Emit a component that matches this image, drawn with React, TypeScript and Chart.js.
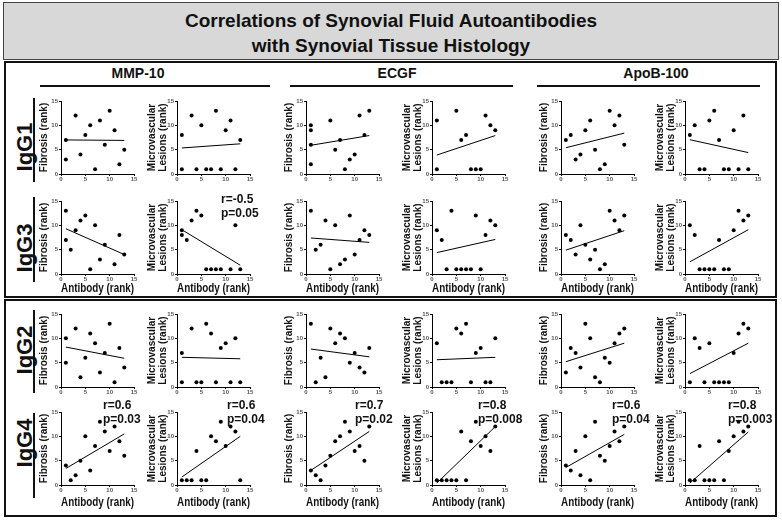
import React, { useEffect, useRef } from 'react';
import { Chart, registerables } from 'chart.js';
Chart.register(...registerables);

type Pt = [number, number];

// ---------------- DATA (antibody rank, histology rank) ----------------
const IgG1_MMP10_Fibrosis: Pt[] = [[1,7],[1,3],[3,12],[4,4],[5,8],[6,10],[7,1],[8,11],[9,6],[10,13],[11,9],[12,2],[13,5]];
const IgG1_MMP10_Micro: Pt[] = [[1,1],[1,8],[3,12],[4,1],[5,10],[6,1],[7,1],[8,13],[9,1],[10,9],[11,11],[12,1],[13,7]];
const IgG1_ECGF_Fibrosis: Pt[] = [[1,10],[1,9],[1,6],[1,2],[5,11],[6,5],[7,7],[8,1],[9,3],[10,4],[11,12],[12,8],[13,13]];
const IgG1_ECGF_Micro: Pt[] = [[1,11],[1,1],[5,13],[6,7],[7,8],[8,1],[9,1],[10,1],[11,12],[12,10],[13,9]];
const IgG1_ApoB_Fibrosis: Pt[] = [[1,7],[2,8],[3,3],[4,4],[5,9],[6,11],[7,5],[8,1],[9,2],[10,13],[11,10],[12,12],[13,6]];
const IgG1_ApoB_Micro: Pt[] = [[1,8],[2,10],[3,1],[4,1],[5,11],[6,13],[7,7],[8,1],[9,1],[10,9],[11,1],[12,12],[13,1]];

const IgG3_MMP10_Fibrosis: Pt[] = [[1,13],[1,7],[2,5],[3,9],[4,11],[5,12],[6,1],[7,10],[8,3],[9,6],[11,2],[12,8],[13,4]];
const IgG3_MMP10_Micro: Pt[] = [[1,9],[1,8],[2,7],[3,11],[4,13],[5,12],[6,1],[7,1],[8,1],[9,1],[11,1],[12,10],[13,1]];
const IgG3_ECGF_Fibrosis: Pt[] = [[1,13],[2,5],[3,6],[4,11],[5,1],[6,10],[7,2],[8,3],[9,12],[10,4],[11,7],[12,9],[13,8]];
const IgG3_ECGF_Micro: Pt[] = [[1,9],[2,7],[3,1],[4,13],[5,1],[6,1],[7,1],[8,1],[9,12],[10,1],[11,8],[12,11],[13,10]];
const IgG3_ApoB_Fibrosis: Pt[] = [[1,8],[2,7],[3,4],[4,10],[5,6],[6,3],[7,5],[8,1],[9,2],[10,13],[11,11],[12,9],[13,12]];
const IgG3_ApoB_Micro: Pt[] = [[1,10],[2,8],[3,1],[4,1],[5,1],[6,1],[7,7],[8,1],[9,1],[10,9],[11,13],[12,11],[13,12]];

const IgG2_MMP10_Fibrosis: Pt[] = [[1,10],[1,5],[3,12],[4,2],[5,6],[6,11],[7,9],[8,3],[9,7],[10,13],[11,1],[12,8],[13,4]];
const IgG2_MMP10_Micro: Pt[] = [[1,7],[1,1],[3,12],[4,1],[5,1],[6,13],[7,11],[8,1],[9,8],[10,9],[11,1],[12,10],[13,1]];
const IgG2_ECGF_Fibrosis: Pt[] = [[1,13],[2,1],[3,6],[4,2],[5,12],[6,9],[7,11],[8,10],[9,5],[10,7],[11,4],[12,3],[13,8]];
const IgG2_ECGF_Micro: Pt[] = [[1,9],[2,1],[3,1],[4,1],[5,12],[6,11],[7,13],[8,1],[9,7],[10,8],[11,1],[12,1],[13,10]];
const IgG2_ApoB_Fibrosis: Pt[] = [[1,3],[2,8],[3,7],[4,4],[5,13],[6,10],[7,2],[8,1],[9,6],[10,5],[11,9],[12,11],[13,12]];
const IgG2_ApoB_Micro: Pt[] = [[1,1],[2,10],[3,8],[4,1],[5,9],[6,1],[7,1],[8,1],[9,1],[10,7],[11,11],[12,13],[13,12]];

const IgG4_MMP10_Fibrosis: Pt[] = [[1,4],[2,1],[3,2],[4,5],[5,10],[6,3],[7,8],[8,13],[9,11],[10,7],[11,12],[12,9],[13,6]];
const IgG4_MMP10_Micro: Pt[] = [[1,1],[2,1],[3,1],[4,7],[5,1],[6,1],[7,10],[8,9],[9,13],[10,8],[11,12],[12,11],[13,1]];
const IgG4_ECGF_Fibrosis: Pt[] = [[1,3],[2,2],[3,1],[4,4],[5,6],[6,9],[7,10],[8,13],[9,11],[10,7],[11,8],[12,5],[13,12]];
const IgG4_ECGF_Micro: Pt[] = [[1,1],[2,1],[3,1],[4,1],[5,1],[6,11],[7,1],[8,9],[9,13],[10,8],[11,10],[12,7],[13,12]];
const IgG4_ApoB_Fibrosis: Pt[] = [[1,4],[2,3],[3,7],[4,2],[5,10],[6,1],[7,13],[8,6],[9,5],[10,8],[11,11],[12,9],[13,12]];
const IgG4_ApoB_Micro: Pt[] = [[1,1],[2,1],[3,8],[4,1],[5,1],[6,1],[7,9],[8,1],[9,7],[10,10],[11,13],[12,11],[13,12]];

// regression line values (y at lowest and highest antibody rank), per panel
const IgG1_FitLines: Pt[] = [[7.0,6.9],[5.35,6.2],[5.9,7.9],[3.9,7.9],[5.4,8.4],[7.05,4.4]];
const IgG3_FitLines: Pt[] = [[9.3,4.0],[9.1,1.8],[7.4,6.5],[4.4,7.1],[4.9,8.9],[2.5,9.1]];
const IgG2_FitLines: Pt[] = [[8.2,5.9],[6.1,5.8],[7.8,6.2],[5.6,6.1],[5.2,9.0],[2.75,9.0]];
const IgG4_FitLines: Pt[] = [[3.4,10.5],[1.65,10.0],[3.0,11.0],[0.4,12.0],[3.6,10.4],[0.4,10.9]];

// statistics labels
const IgG3_Stats: (string[] | null)[] = [null, ['r=-0.5', 'p=0.05'], null, null, null, null];
const IgG4_Stats: (string[] | null)[] = [['r=0.6','p=0.03'],['r=0.6','p=0.04'],['r=0.7','p=0.02'],['r=0.8','p=0.008'],['r=0.6','p=0.04'],['r=0.8','p=0.003']];

const antigens = ['MMP-10', 'ECGF', 'ApoB-100'];
const isotypes = ['IgG1', 'IgG3', 'IgG2', 'IgG4'];
const fibrosisTitle = 'Fibrosis (rank)';
const microTitle = ['Microvascular', 'Lesions (rank)'];
const xAxisTitle = 'Antibody (rank)';
const yTickValues = [0, 5, 10, 15];
const titleLines = ['Correlations of Synovial Fluid Autoantibodies', 'with Synovial Tissue Histology'];

const panelRows: Pt[][][] = [
  [IgG1_MMP10_Fibrosis, IgG1_MMP10_Micro, IgG1_ECGF_Fibrosis, IgG1_ECGF_Micro, IgG1_ApoB_Fibrosis, IgG1_ApoB_Micro],
  [IgG3_MMP10_Fibrosis, IgG3_MMP10_Micro, IgG3_ECGF_Fibrosis, IgG3_ECGF_Micro, IgG3_ApoB_Fibrosis, IgG3_ApoB_Micro],
  [IgG2_MMP10_Fibrosis, IgG2_MMP10_Micro, IgG2_ECGF_Fibrosis, IgG2_ECGF_Micro, IgG2_ApoB_Fibrosis, IgG2_ApoB_Micro],
  [IgG4_MMP10_Fibrosis, IgG4_MMP10_Micro, IgG4_ECGF_Fibrosis, IgG4_ECGF_Micro, IgG4_ApoB_Fibrosis, IgG4_ApoB_Micro],
];
const fitRows = [IgG1_FitLines, IgG3_FitLines, IgG2_FitLines, IgG4_FitLines];
const statRows = [null, IgG3_Stats, null, IgG4_Stats];

// ---------------- LAYOUT ----------------
const FONT = "'Liberation Sans', Arial, Helvetica, sans-serif";
const COL_LEFT = [61, 177, 306, 432, 561, 685];
const ROW_TOP = [101, 201, 314, 412];
const AREA = 73;
const YW = 30;
const PT = 10;
const PR = 12;
const ROW_HAS_XTITLE = [false, true, false, true];
const ROW_XTITLE_PAD = [0, 3.5, 0, 0.7];
const HEADER_CX = [138, 397, 656];
const UNDERLINE = [[40, 270], [290, 513], [537, 760]];
const ROWLABEL_CY = [147, 248, 350, 443];
const ROWLINE = [[98, 182], [197, 282], [310, 393], [413, 498]];
const STAT_LEFT_ROW3 = [103, 227, 355, 478, 612, 728];
const STAT_LEFT_ROW1 = [0, 221, 0, 0, 0, 0];
const STAT_Y = [[0, 0], [199, 212.7], [0, 0], [405, 419]];

interface PlotProps {
  points: Pt[];
  fit: Pt;
  isFibrosis: boolean;
  showXTitle: boolean;
  xTitlePad: number;
  left: number;
  top: number;
}

function MiniPlot({ points, fit, isFibrosis, showXTitle, xTitlePad, left, top }: PlotProps) {
  const ref = useRef<HTMLCanvasElement>(null);
  const XH = showXTitle ? 24 : 10;
  const width = YW + AREA + PR;
  const height = PT + AREA + XH;
  useEffect(() => {
    const xs = points.map((p) => p[0]);
    const x0 = Math.min(...xs);
    const x1 = Math.max(...xs);
    const tickFont = { size: 6, family: FONT, weight: 'bold' as const };
    const chart = new Chart(ref.current as HTMLCanvasElement, {
      type: 'scatter',
      data: {
        datasets: [
          {
            data: [{ x: x0, y: fit[0] }, { x: x1, y: fit[1] }],
            showLine: true,
            borderColor: '#000',
            borderWidth: 1,
            pointRadius: 0,
            order: 1,
          },
          {
            data: points.map(([x, y]) => ({ x, y })),
            showLine: false,
            pointRadius: 2,
            pointBackgroundColor: '#000',
            pointBorderWidth: 0,
            order: 0,
          },
        ],
      },
      options: {
        animation: false,
        responsive: false,
        events: [],
        layout: { padding: { top: PT, right: PR, left: 0, bottom: 0 } },
        plugins: { legend: { display: false }, tooltip: { enabled: false } },
        scales: {
          x: {
            type: 'linear',
            min: 0,
            max: 15,
            ticks: { stepSize: 5, font: tickFont, color: '#555', padding: 0, maxRotation: 0, autoSkip: false },
            grid: { drawOnChartArea: false, drawTicks: true, tickLength: 2, color: '#000', lineWidth: 1 },
            border: { display: true, color: '#000', width: 1 },
            title: {
              display: showXTitle,
              text: xAxisTitle,
              color: '#111',
              font: { size: 12, weight: 'bold', family: FONT, lineHeight: 1 },
              padding: { top: 0, bottom: xTitlePad },
            },
            afterFit: (s: any) => { s.height = XH; },
          },
          y: {
            type: 'linear',
            min: 0,
            max: 15,
            afterBuildTicks: (s: any) => { s.ticks = yTickValues.map((v) => ({ value: v })); },
            ticks: { font: tickFont, color: '#555', padding: 1 },
            grid: { drawOnChartArea: false, drawTicks: true, tickLength: 2, color: '#000', lineWidth: 1 },
            border: { display: true, color: '#000', width: 1 },
            title: {
              display: true,
              text: isFibrosis ? fibrosisTitle : microTitle,
              color: '#111',
              font: { size: 10, weight: 'bold', family: FONT, lineHeight: 1.1 },
              padding: { top: isFibrosis ? 7.5 : 0, bottom: 0 },
            },
            afterFit: (s: any) => { s.width = YW; },
          },
        },
      },
    } as any);
    return () => chart.destroy();
  }, []);
  return (
    <canvas
      ref={ref}
      width={width}
      height={height}
      style={{ position: 'absolute', left: left - YW, top: top - PT, width, height }}
    />
  );
}

export default function App() {
  const abs = (s: React.CSSProperties): React.CSSProperties => ({ position: 'absolute', ...s });
  return (
    <div style={abs({ left: 0, top: 0, width: 782, height: 521, background: '#fff', fontFamily: FONT, overflow: 'hidden' })}>
      {/* title box */}
      <div style={abs({ left: 3, top: 2, width: 776, height: 58, boxSizing: 'border-box', background: '#d8d8d8', border: '1px solid #444' })} />
      {titleLines.map((t, i) => (
        <div key={t} style={abs({ left: 0, width: 782, top: [21, 46][i] - 11, height: 22, lineHeight: '22px', textAlign: 'center', fontSize: 19, fontWeight: 'bold', color: '#111' })}>{t}</div>
      ))}
      {/* boxes */}
      <div style={abs({ left: 4, top: 61, width: 773, height: 237, boxSizing: 'border-box', border: '2px solid #111' })} />
      <div style={abs({ left: 4, top: 299, width: 773, height: 218, boxSizing: 'border-box', border: '2px solid #111' })} />
      {/* column headers */}
      {antigens.map((a, i) => (
        <React.Fragment key={a}>
          <div style={abs({ left: HEADER_CX[i] - 80, width: 160, top: 65, height: 17, lineHeight: '17px', textAlign: 'center', fontSize: 14, fontWeight: 'bold', color: '#111' })}>{a}</div>
          <div style={abs({ left: UNDERLINE[i][0], width: UNDERLINE[i][1] - UNDERLINE[i][0], top: 85, height: 2, background: '#111' })} />
        </React.Fragment>
      ))}
      {/* row labels */}
      {isotypes.map((iso, r) => (
        <React.Fragment key={iso}>
          <div style={abs({ left: 24.5, top: ROWLABEL_CY[r], transform: 'translate(-50%, -50%) rotate(-90deg)', fontSize: 22, fontWeight: 'bold', lineHeight: 1, whiteSpace: 'nowrap', color: '#111' })}>{iso}</div>
          <div style={abs({ left: 33, top: ROWLINE[r][0], width: 2, height: ROWLINE[r][1] - ROWLINE[r][0], background: '#111' })} />
        </React.Fragment>
      ))}
      {/* plots */}
      {panelRows.map((row, r) =>
        row.map((pts, c) => (
          <MiniPlot
            key={`${r}-${c}`}
            points={pts}
            fit={fitRows[r][c]}
            isFibrosis={c % 2 === 0}
            showXTitle={ROW_HAS_XTITLE[r]}
            xTitlePad={ROW_XTITLE_PAD[r]}
            left={COL_LEFT[c]}
            top={ROW_TOP[r]}
          />
        ))
      )}
      {/* statistics */}
      {statRows.map((row, r) =>
        row
          ? row.map((st, c) =>
              st
                ? st.map((line, k) => (
                    <div
                      key={`${r}-${c}-${k}`}
                      style={abs({
                        left: r === 3 ? STAT_LEFT_ROW3[c] : STAT_LEFT_ROW1[c],
                        top: STAT_Y[r][k] - 7,
                        height: 14,
                        lineHeight: '14px',
                        fontSize: 12,
                        fontWeight: 'bold',
                        whiteSpace: 'nowrap',
                        color: '#111',
                      })}
                    >
                      {line}
                    </div>
                  ))
                : null
            )
          : null
      )}
    </div>
  );
}
